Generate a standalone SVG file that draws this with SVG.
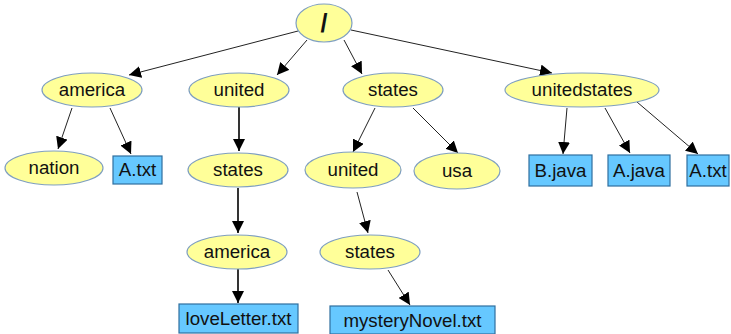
<svg xmlns="http://www.w3.org/2000/svg" width="731" height="334" viewBox="0 0 731 334">
<style>
.n ellipse{fill:#ffff99;stroke:#7f9fc0;stroke-width:1.2}
.f rect{fill:#66c8ff;stroke:#2f6f9f;stroke-width:1.2}
text{font-family:"Liberation Sans",Arial,sans-serif;font-size:18.7px;fill:#111;text-anchor:middle}
.e line{stroke:#222;stroke-width:1;marker-end:url(#ah)}
.e line.k{stroke:#000;stroke-width:1.6}
</style>
<defs>
<marker id="ah" viewBox="0 0 10 10" refX="10" refY="5" markerWidth="12" markerHeight="12" markerUnits="userSpaceOnUse" orient="auto"><path d="M0,0L10,5L0,10z" fill="#000"/></marker>
</defs>
<g class="e" id="edges">
<line x1="298" y1="31" x2="129" y2="75"/>
<line x1="307" y1="40" x2="277" y2="75"/>
<line x1="344" y1="40" x2="362" y2="74"/>
<line x1="351" y1="30" x2="552" y2="73"/>
<line x1="72" y1="108" x2="58" y2="149"/>
<line x1="110" y1="108" x2="131" y2="154"/>
<line class="k" x1="239" y1="107" x2="239" y2="151"/>
<line class="k" x1="238" y1="188" x2="238" y2="233"/>
<line class="k" x1="238" y1="269" x2="238" y2="303"/>
<line x1="375" y1="108" x2="353" y2="152"/>
<line x1="413" y1="108" x2="458" y2="153"/>
<line x1="357" y1="192" x2="368" y2="233"/>
<line x1="388" y1="270" x2="410" y2="305"/>
<line x1="567" y1="108" x2="563" y2="154"/>
<line x1="605" y1="108" x2="630" y2="153"/>
<line x1="637" y1="102" x2="698" y2="154"/>
</g>
<g id="root" class="n"><ellipse cx="324" cy="23" rx="28" ry="19"/><text x="324" y="32" style="font-size:25px;font-weight:bold">/</text></g>
<g id="america" class="n"><ellipse cx="92" cy="90" rx="50" ry="17"/><text x="92" y="96">america</text></g>
<g id="nation" class="n"><ellipse cx="54" cy="168" rx="49" ry="17"/><text x="54" y="174">nation</text></g>
<g id="atxt1" class="f"><rect x="113" y="156" width="49" height="28"/><text x="137.5" y="176">A.txt</text></g>
<g id="united" class="n"><ellipse cx="239" cy="90" rx="50" ry="17"/><text x="239" y="96">united</text></g>
<g id="states1" class="n"><ellipse cx="238" cy="170" rx="50" ry="17"/><text x="238" y="176">states</text></g>
<g id="america2" class="n"><ellipse cx="237" cy="252" rx="50" ry="17"/><text x="237" y="258">america</text></g>
<g id="loveLetter" class="f"><rect x="179" y="304" width="119" height="29"/><text x="238.5" y="325">loveLetter.txt</text></g>
<g id="states" class="n"><ellipse cx="393" cy="90" rx="50" ry="17"/><text x="393" y="96">states</text></g>
<g id="united2" class="n"><ellipse cx="353" cy="170" rx="48" ry="18"/><text x="353" y="176">united</text></g>
<g id="usa" class="n"><ellipse cx="457" cy="171" rx="43" ry="18"/><text x="457" y="177">usa</text></g>
<g id="states2" class="n"><ellipse cx="370" cy="252" rx="50" ry="17"/><text x="370" y="258">states</text></g>
<g id="mysteryNovel" class="f"><rect x="330" y="306" width="165" height="28"/><text x="412.5" y="327">mysteryNovel.txt</text></g>
<g id="unitedstates" class="n"><ellipse cx="582" cy="90" rx="77" ry="17"/><text x="582" y="96">unitedstates</text></g>
<g id="bjava" class="f"><rect x="529" y="155" width="63" height="31"/><text x="560.5" y="177">B.java</text></g>
<g id="ajava" class="f"><rect x="608" y="155" width="62" height="31"/><text x="639" y="177">A.java</text></g>
<g id="atxt2" class="f"><rect x="687" y="155" width="42" height="31"/><text x="708" y="177">A.txt</text></g>
</svg>
